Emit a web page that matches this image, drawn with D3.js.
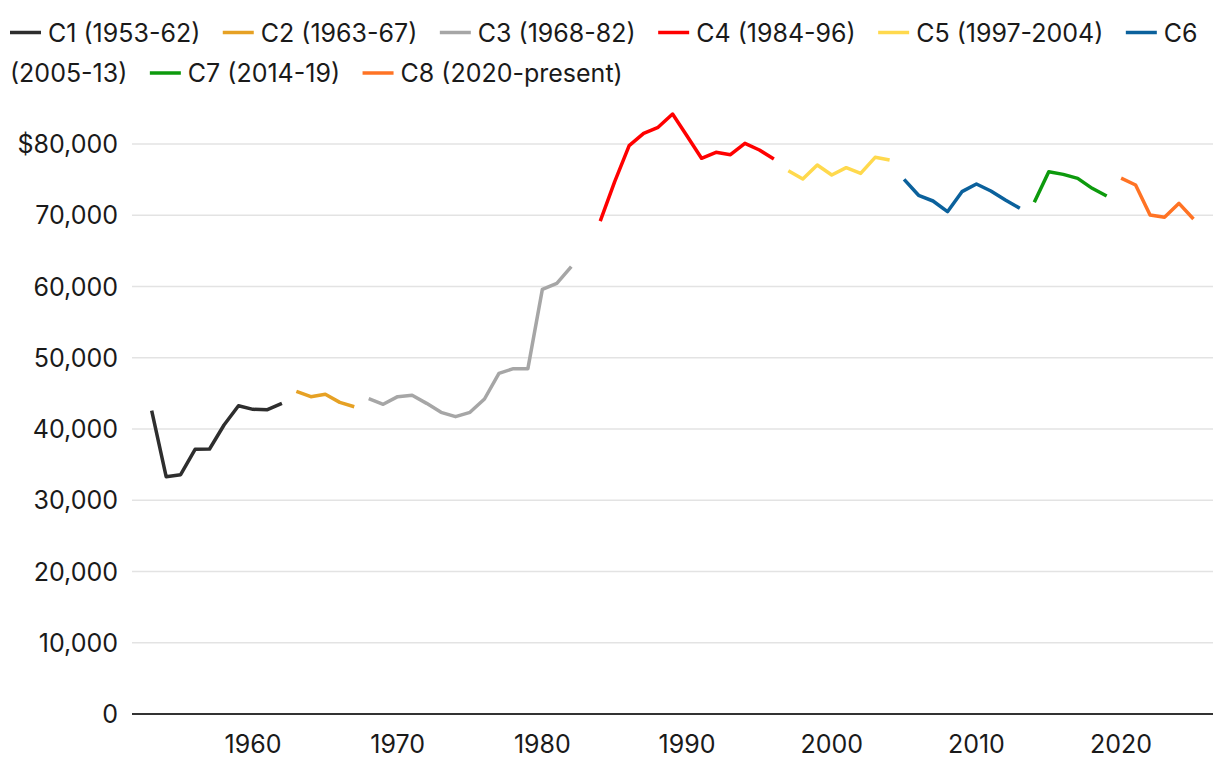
<!DOCTYPE html>
<html>
<head>
<meta charset="utf-8">
<script src="https://cdn.jsdelivr.net/npm/d3@7"></script>
<style>
  body { margin: 0; background: #fff; }
  svg text { font-family: Inter, "Liberation Sans", sans-serif; fill: #1a1a1a; }
</style>
</head>
<body>
<svg id="chart" width="1220" height="772"></svg>
<script>
// series labels and their yearly values (median income, $)
const seriesNames = ["C1 (1953-62)", "C2 (1963-67)", "C3 (1968-82)", "C4 (1984-96)",
                     "C5 (1997-2004)", "C6 (2005-13)", "C7 (2014-19)", "C8 (2020-present)"];
const seriesColors = ["#2e2e2e", "#e6a124", "#a6a6a6", "#ff0000",
                      "#ffd94d", "#0b619c", "#0d9a0d", "#ff7324"];
const startYears = [1953, 1963, 1968, 1984, 1997, 2005, 2014, 2020];

const c1 = [42570, 33310, 33590, 37150, 37190, 40560, 43270, 42760, 42710, 43600];
const c2 = [45290, 44540, 44870, 43740, 43130];
const c3 = [44260, 43470, 44540, 44730, 43600, 42340, 41730, 42340, 44210, 47810,
            48470, 48470, 59600, 60440, 62780];
const c4 = [69190, 74710, 79770, 81500, 82340, 84210, 81120, 77990, 78830, 78500,
            80100, 79160, 77890];
const c5 = [76260, 75090, 77050, 75650, 76680, 75880, 78130, 77750];
const c6 = [75040, 72800, 72000, 70500, 73310, 74390, 73400, 72140, 70970];
const c7 = [71820, 76110, 75740, 75180, 73780, 72700];
const c8 = [75200, 74250, 70030, 69710, 71670, 69470];
const seriesValues = [c1, c2, c3, c4, c5, c6, c7, c8];

const xTicks = [1960, 1970, 1980, 1990, 2000, 2010, 2020];
const yTicks = [0, 10000, 20000, 30000, 40000, 50000, 60000, 70000, 80000];

const svg = d3.select("#chart");
const plotLeft = 132, plotRight = 1213, plotTop = 144, plotBottom = 714;
const fontSize = 25;

const x = d3.scaleLinear().domain([1951.64, 2026.35]).range([plotLeft, plotRight]);
const y = d3.scaleLinear().domain([0, 80000]).range([plotBottom, plotTop]);

// gridlines + y labels
const fmt = d3.format(",");
svg.append("g")
  .selectAll("line")
  .data(yTicks.filter(d => d > 0))
  .enter()
  .append("line")
  .attr("x1", plotLeft)
  .attr("x2", plotRight)
  .attr("y1", d => y(d))
  .attr("y2", d => y(d))
  .attr("stroke", "#e3e3e3")
  .attr("stroke-width", 1.5);

svg.append("g")
  .selectAll("text")
  .data(yTicks)
  .enter()
  .append("text")
  .attr("x", 118)
  .attr("y", d => y(d))
  .attr("dy", "0.36em")
  .attr("text-anchor", "end")
  .attr("font-size", fontSize)
  .text(d => (d === 80000 ? "$" : "") + fmt(d));

// x axis line + labels
svg.append("line")
  .attr("x1", plotLeft)
  .attr("x2", plotRight)
  .attr("y1", plotBottom)
  .attr("y2", plotBottom)
  .attr("stroke", "#333")
  .attr("stroke-width", 2);

svg.append("g")
  .selectAll("text")
  .data(xTicks)
  .enter()
  .append("text")
  .attr("x", d => x(d))
  .attr("y", 753)
  .attr("text-anchor", "middle")
  .attr("font-size", fontSize)
  .text(d => d);

// lines
const line = d3.line()
  .x(d => x(d.year))
  .y(d => y(d.value));

seriesValues.forEach((vals, i) => {
  const pts = vals.map((v, k) => ({ year: startYears[i] + k, value: v }));
  svg.append("path")
    .datum(pts)
    .attr("fill", "none")
    .attr("stroke", seriesColors[i])
    .attr("stroke-width", 3.5)
    .attr("stroke-linejoin", "round")
    .attr("d", line);
});

// legend, flowing and wrapping word by word like the original
const legend = svg.append("g");
const rowY = [32.5, 73], maxX = 1212;
let cx = 10, row = 0;
const measure = legend.append("text").attr("font-size", fontSize).attr("opacity", 0);
function textWidth(s) { measure.text(s); return measure.node().getComputedTextLength(); }
const spaceW = textWidth("a a") - textWidth("aa");

seriesNames.forEach((name, i) => {
  const words = name.split(" ");
  if (cx + 39 + textWidth(words[0]) > maxX) { row++; cx = 10; }
  legend.append("line")
    .attr("x1", cx).attr("x2", cx + 31)
    .attr("y1", rowY[row]).attr("y2", rowY[row])
    .attr("stroke", seriesColors[i])
    .attr("stroke-width", 3.5);
  cx += 38;
  words.forEach((w, k) => {
    const ww = textWidth(w);
    if (k > 0) {
      if (cx + spaceW + ww > maxX) { row++; cx = 10; }
      else cx += spaceW;
    }
    legend.append("text")
      .attr("x", cx)
      .attr("y", rowY[row])
      .attr("dy", "0.36em")
      .attr("font-size", fontSize)
      .text(w);
    cx += ww;
  });
  cx += 22.5;
});
measure.remove();
</script>
</body>
</html>
